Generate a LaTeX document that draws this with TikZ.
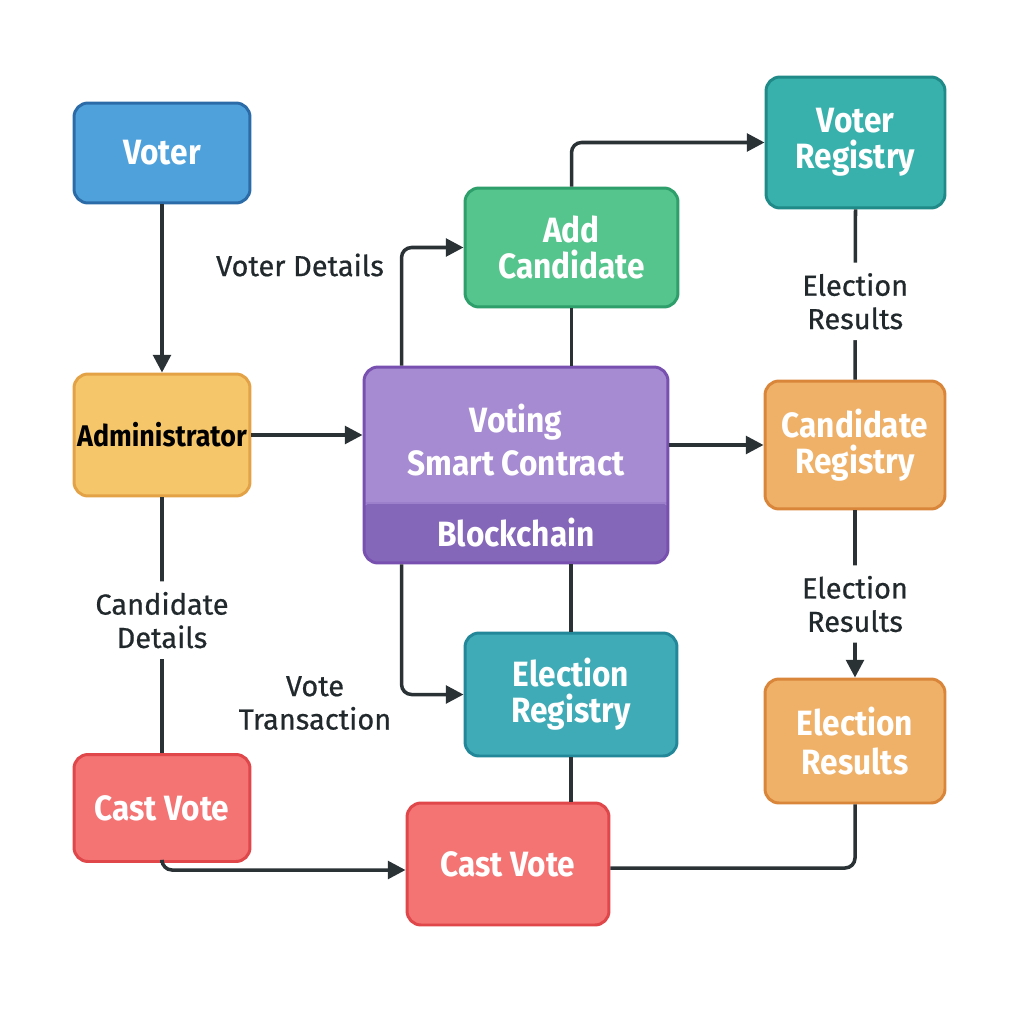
\documentclass[tikz,border=0pt]{standalone}
\usepackage{fontspec}
\setmainfont{Fira Sans}
\newfontfamily\boxfont[FakeStretch=0.9]{Fira Sans}
\newfontfamily\lblfont[FakeBold=0.6]{Fira Sans}
\usetikzlibrary{arrows.meta,calc}
\definecolor{lineC}{HTML}{2B3236}
\definecolor{txtC}{HTML}{22292D}
\definecolor{voterF}{HTML}{4FA1DC}\definecolor{voterD}{HTML}{2B6CA8}
\definecolor{adminF}{HTML}{F5C66A}\definecolor{adminD}{HTML}{E3A246}
\definecolor{castF}{HTML}{F47373}\definecolor{castD}{HTML}{E0474B}
\definecolor{addF}{HTML}{55C58D}\definecolor{addD}{HTML}{2E9E6B}
\definecolor{vregF}{HTML}{38B1AD}\definecolor{vregD}{HTML}{1F8A87}
\definecolor{ctrT}{HTML}{A68AD2}\definecolor{ctrB}{HTML}{8567BA}\definecolor{ctrD}{HTML}{7850B0}\definecolor{ctrS}{HTML}{9C80CC}
\definecolor{orgF}{HTML}{EFB067}\definecolor{orgD}{HTML}{D9863A}
\definecolor{eregF}{HTML}{3FABB6}\definecolor{eregD}{HTML}{23879A}
\begin{document}
\begin{tikzpicture}[x=0.02cm,y=-0.02cm,
  box/.style={draw, line width=1.7pt, rounded corners=0.28cm, align=center, text=white,
    font=\boxfont\bfseries\fontsize{20}{20.5}\selectfont, inner sep=0pt},
  boxtext/.style={align=center, text=white, font=\boxfont\bfseries\fontsize{20}{20.5}\selectfont, inner sep=0pt},
  conn/.style={draw=lineC, line width=2pt, rounded corners=0.2cm},
  arr/.style={conn, -{Triangle[length=10pt,width=10pt]}},
  lbl/.style={text=txtC, font=\lblfont\fontsize{16.5}{19}\selectfont, align=center},
  lblgap/.style={lbl, fill=white, inner xsep=2pt, inner ysep=6pt}]
\fill[white] (0,0) rectangle (1024,1024);
\useasboundingbox (0,0) rectangle (1024,1024);

% boxes
\node[box, fill=voterF, draw=voterD, minimum width=3.52cm, minimum height=2.0cm] (voter) at (162,153) {Voter};
\node[box, fill=adminF, draw=adminD, minimum width=3.52cm, minimum height=2.44cm, text=black,
  font=\boxfont\bfseries\fontsize{17}{20}\selectfont] (admin) at (162,435) {Administrator};
\node[box, fill=castF, draw=castD, minimum width=3.52cm, minimum height=2.14cm] (castl) at (162,808) {Cast Vote};
\node[box, fill=addF, draw=addD, minimum width=4.26cm, minimum height=2.38cm] (addc) at (571.5,247.5) {Add\\Candidate};
\node[box, fill=vregF, draw=vregD, minimum width=3.58cm, minimum height=2.62cm] (vreg) at (855.5,142.5) {Voter\\Registry};
\node[box, fill=ctrT, draw=ctrD, minimum width=6.08cm, minimum height=3.92cm,
  path picture={\fill[ctrB] ($(path picture bounding box.south west)+(-5,-60)$) rectangle ($(path picture bounding box.south east)+(5,5)$);
    \draw[ctrS, line width=1pt] ($(path picture bounding box.south west)+(0,-60)$) -- ($(path picture bounding box.south east)+(0,-60)$);}] (contract) at (516,465) {};
\node[boxtext] (ctitle) at (516,440) {Voting\\[4pt]Smart Contract};
\node[boxtext] (chain) at (516,533) {Blockchain};
\node[box, fill=orgF, draw=orgD, minimum width=3.6cm, minimum height=2.56cm] (creg) at (855,445) {Candidate\\Registry};
\node[box, fill=eregF, draw=eregD, minimum width=4.24cm, minimum height=2.46cm] (ereg) at (571,694.5) {Election\\Registry};
\node[box, fill=orgF, draw=orgD, minimum width=3.6cm, minimum height=2.48cm] (eres) at (855,741) {Election\\[2pt]Results};
\node[box, fill=castF, draw=castD, minimum width=4.04cm, minimum height=2.44cm] (castb) at (508,864) {Cast Vote};

% free labels
\node[lbl] (lvd) at (300,265) {Voter Details};
\node[lbl] (lvt) at (315,703) {Vote\\Transaction};

% connectors
\draw[arr] (voter) -- (admin);
\draw[arr] (admin.east) -- (admin.east -| contract.west);
\draw[arr] ($(contract.north west)+(39,0)$) |- (addc.west);
\draw[arr] (addc.north) |- (vreg.west);
\draw[conn] (addc.south) -- (addc.south |- contract.north);
\draw[arr] (contract.east |- creg.west) -- (creg.west);
\draw[conn] (vreg.south) -- node[lblgap, pos=0.54] (l1) {Election\\Results} (creg.north);
\draw[arr] (creg.south) -- node[lblgap, pos=0.56] (l2) {Election\\Results} (eres.north);
\draw[arr] ($(contract.south west)+(39,0)$) |- (ereg.west);
\draw[conn] (ereg.north |- contract.south) -- (ereg.north);
\draw[conn] (ereg.south) -- (ereg.south |- castb.north);
\draw[conn] (admin.south) -- node[lblgap, pos=0.48] (l3) {Candidate\\Details} (castl.north);
\draw[arr] (castl.south) |- ($(castb.west)+(0,6)$);
\draw[conn] ($(castb.east)+(0,4)$) -| (eres.south);
\end{tikzpicture}
\end{document}
